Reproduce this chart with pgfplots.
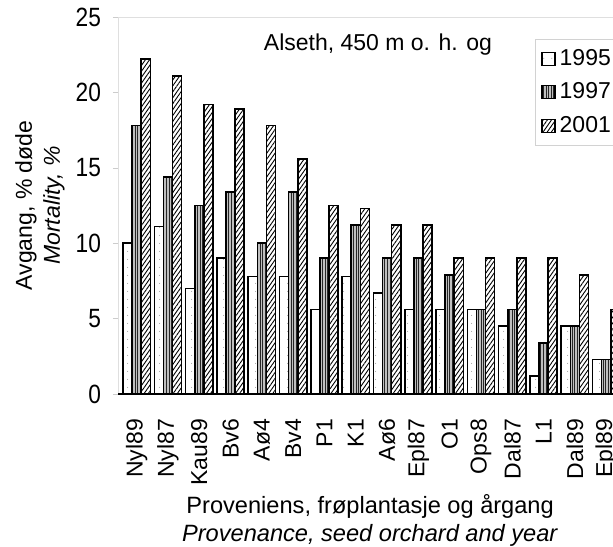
\documentclass[border=0pt]{standalone}
\usepackage{fontspec}
\setmainfont{Liberation Sans}
\newfontfamily\narrowfont{Liberation Sans}[FakeStretch=0.86]
\usepackage{pgfplots}
\pgfplotsset{compat=1.18}
\usepackage{pgfplotstable}
\usetikzlibrary{patterns.meta}

\pgfplotstableread{
idx y1995 y1997 y2001
0  10.0 17.8 22.2
1  11.1 14.4 21.1
2  7.0  12.5 19.2
3  9.0  13.4 18.9
4  7.8  10.0 17.8
5  7.8  13.4 15.6
6  5.6  9.0  12.5
7  7.8  11.2 12.3
8  6.7  9.0  11.2
9  5.6  9.0  11.2
10 5.6  7.9  9.0
11 5.6  5.6  9.0
12 4.5  5.6  9.0
13 1.2  3.4  9.0
14 4.5  4.5  7.9
15 2.3  2.3  5.6
}\mort

\newcommand{\fs}{\fontsize{11.5}{14}\selectfont}
\newcommand{\fsl}{\fontsize{11.8}{14}\selectfont}
\newcommand{\fsy}{\narrowfont\fontsize{13.2}{15}\selectfont}

\begin{document}
\begin{tikzpicture}
\begin{axis}[
  name=ax,
  scale only axis,
  width=261pt, height=188.5pt,
  xmin=-0.597, xmax=16.08,
  ymin=0, ymax=25,
  ytick={0,5,10,15,20,25},
  xtick={0,...,15},
  xticklabels={Nyl89,Nyl87,Kau89,Bv6,Aø4,Bv4,P1,K1,Aø6,Epl87,O1,Ops8,Dal87,L1,Dal89,Epl89},
  xticklabel style={rotate=90, anchor=east, font=\fs},
  xticklabel shift=6.5pt,
  yticklabel style={font=\fsy},
  yticklabel shift=2.5pt,
  /pgf/number format/assume math mode=true,
  x tick style={draw=none},
  y tick style={draw=gray!40},
  tick align=outside,
  major tick length=2.5pt,
  axis line style={draw=gray!25},
  ybar,
  bar width=0.29,
  xlabel={Proveniens, frøplantasje og årgang\\\textit{Provenance, seed orchard and year}},
  xlabel style={font=\fsl, align=center, at={(axis description cs:0.483,-0.336)}, anchor=center},
  ylabel={Avgang, \% døde\\\textit{Mortality, \%}},
  ylabel style={font=\fs, align=center, at={(axis description cs:-0.1494,0.5)}, anchor=center},
  legend style={at={(axis description cs:0.799,0.942)}, anchor=north west,
    draw=gray!35, font=\fs, row sep=3.2pt, inner sep=3pt,
    nodes={inner xsep=2pt}},
  legend cell align=left,
  legend image code/.code={\draw[#1, line width=0.6pt] (0pt,-3.25pt) rectangle (6.5pt,3.25pt);},
]
\addplot[draw=black, line width=0.8pt, fill=white,
  postaction={pattern={Dots[distance=4pt,radius=0.3pt]}, pattern color=gray!70},
  bar shift=-0.29] table[x=idx,y=y1995]{\mort};
\addplot[draw=black, line width=0.8pt, fill=gray!50,
  postaction={pattern={Lines[angle=90,distance=1.3pt,line width=0.5pt]}, pattern color=black!85},
  bar shift=0] table[x=idx,y=y1997]{\mort};
\addplot[draw=black, line width=0.8pt, fill=white,
  postaction={pattern={Lines[angle=55,distance=1.7pt,line width=0.45pt]}, pattern color=black},
  bar shift=0.29] table[x=idx,y=y2001]{\mort};
\legend{1995,1997,2001}
\draw[black, line width=0.9pt] (rel axis cs:0,0) -- (rel axis cs:1,0);
\node[font=\fs] at (axis description cs:0.498,0.926) {Alseth, 450 m o. h. og};
\end{axis}
\pgfresetboundingbox
\path[use as bounding box] ([shift={(-59pt,-76pt)}]ax.south west) rectangle ([shift={(247.5pt,197pt)}]ax.south west);
\end{tikzpicture}
\end{document}
